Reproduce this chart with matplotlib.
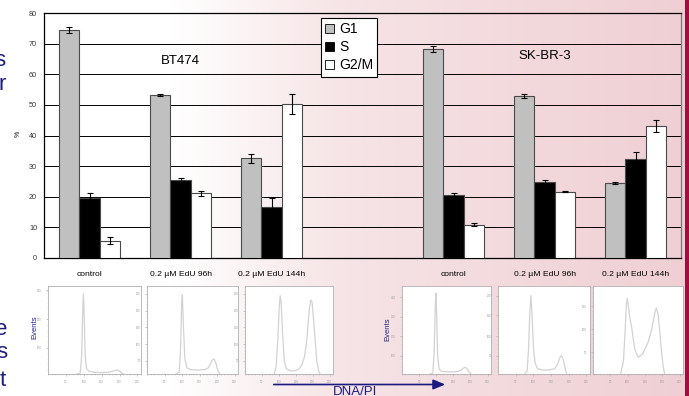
import numpy as np
import matplotlib
matplotlib.use("Agg")
import matplotlib.pyplot as plt
from matplotlib.patches import Patch, Rectangle, FancyArrowPatch
from matplotlib.colors import LinearSegmentedColormap
from matplotlib.ticker import AutoMinorLocator

plt.rcParams['font.family'] = ['Liberation Sans', 'DejaVu Sans']

# ---------------- data ----------------
cell_lines = ["BT474", "SK-BR-3"]
conditions = ["control", "0.2 µM EdU 96h", "0.2 µM EdU 144h"]
phases = ["G1", "S", "G2/M"]

g1 = [74.5, 53.3, 32.5, 68.3, 52.9, 24.4]
s_phase = [19.5, 25.4, 16.8, 20.6, 24.9, 32.4]
g2m = [5.7, 21.1, 50.2, 10.9, 21.7, 43.0]
g1_err = [1.0, 0.3, 1.4, 1.0, 0.6, 0.3]
s_err = [1.6, 0.6, 2.7, 0.6, 0.5, 2.1]
g2m_err = [1.0, 0.8, 3.3, 0.4, 0.3, 1.9]

y_ticks = [0, 10, 20, 30, 40, 50, 60, 70, 80]

# flow cytometry histograms (DNA/PI channel, events as % of panel height)
hist_x = [
    [80, 90, 94, 97, 99, 101, 104, 108, 115, 130, 150, 170, 180, 187, 193, 200, 206, 212],
    [82, 92, 96, 99, 101, 104, 108, 114, 125, 145, 165, 175, 182, 187, 192, 197, 203, 208],
    [86, 92, 97, 101, 104, 107, 111, 116, 122, 135, 150, 160, 168, 176, 183, 189, 194, 198, 202, 207, 212, 218, 222],
    [82, 90, 94, 97, 99, 101, 104, 108, 115, 130, 150, 165, 174, 180, 185, 190, 196, 202],
    [76, 82, 86, 90, 93, 96, 100, 105, 112, 125, 145, 160, 168, 174, 179, 184, 189, 194],
    [80, 88, 93, 96, 99, 103, 107, 111, 116, 121, 130, 144, 159, 168, 175, 180, 183, 188, 193, 198, 203, 207],
]
hist_y = [
    [0, 1, 20, 70, 91, 70, 20, 6, 3, 2, 1.5, 2, 3, 4, 4.5, 3.5, 1, 0],
    [0, 2, 30, 80, 90, 55, 18, 7, 5, 4.5, 5, 7, 12, 16, 17, 12, 3, 0],
    [0, 8, 40, 75, 89, 80, 45, 15, 6, 3.5, 4, 6, 10, 20, 40, 70, 84, 82, 65, 40, 15, 3, 0],
    [0, 1, 25, 75, 92, 70, 22, 6, 3, 2.5, 2.5, 3, 5, 7, 7.5, 6, 2, 0],
    [0, 3, 25, 70, 89, 70, 30, 12, 6, 4.5, 4.5, 6, 11, 18, 21, 17, 8, 0],
    [0, 15, 50, 78, 86, 75, 62, 55, 40, 28, 19, 23, 36, 48, 62, 72, 75, 68, 48, 25, 8, 0],
]
hist_yticks = [
    [30, 62, 95],
    [15, 34, 53, 72, 91],
    [15, 34, 53, 72, 91],
    [21, 43, 65, 87],
    [21, 43, 67, 89],
    [25, 51, 77],
]
hist_ytick_labels = [
    ["100", "200", "300"],
    ["50", "100", "150", "200", "250"],
    ["50", "100", "150", "200", "250"],
    ["100", "200", "300", "400"],
    ["50", "100", "150", "200"],
    ["50", "100", "150"],
]
hist_xticks = [50, 100, 150, 200, 250]

# ---------------- figure ----------------
W, H = 689, 396
fig = plt.figure(figsize=(W / 100, H / 100), dpi=100)

def fx(px):
    return px / W

def fy(py):
    return 1 - py / H

# background gradient
bg = fig.add_axes([0, 0, 1, 1], zorder=-10)
cmap = LinearSegmentedColormap.from_list(
    "bg", [(0.0, "#ffffff"), (0.25, "#ffffff"), (0.5, "#f6e4e6"), (1.0, "#efcfd4")])
grad = np.linspace(0, 1, 256).reshape(1, -1)
bg.imshow(grad, cmap=cmap, aspect="auto", extent=[0, 1, 0, 1])
bg.set_xlim(0, 1)
bg.set_ylim(0, 1)
bg.axis("off")
# right crimson bar
fig.patches.append(Rectangle((fx(685), 0), 1 - fx(685), 1, transform=fig.transFigure,
                             facecolor="#a20c3e", edgecolor="none", zorder=5))

navy = "#1e1e7e"
# slide text fragments at the left edge
for txt, px_r, py_b in [("s", 5, 66), ("r", 6, 90), ("e", 7, 335), ("s", 7, 358), ("t", 6, 386)]:
    fig.text(fx(px_r), fy(py_b), txt, ha="right", va="baseline", fontsize=16, color=navy)

# ---------------- main bar chart ----------------
ax = fig.add_axes([fx(44), fy(258), fx(681) - fx(44), fy(13) - fy(258)])
ax.patch.set_alpha(0)
positions = [0, 1, 2, 4, 5, 6]
bw = 0.223
pos = np.array(positions, dtype=float)
ekw = dict(ecolor="black", elinewidth=0.8, capsize=2.2, capthick=0.8)
ax.bar(pos - bw, g1, bw, yerr=g1_err, color="#c0c0c0", edgecolor="#4a4a4a", linewidth=0.8,
       error_kw=ekw, zorder=3)
ax.bar(pos, s_phase, bw, yerr=s_err, color="black", edgecolor="#4a4a4a", linewidth=0.8,
       error_kw=ekw, zorder=3)
ax.bar(pos + bw, g2m, bw, yerr=g2m_err, color="white", edgecolor="#4a4a4a", linewidth=0.8,
       error_kw=ekw, zorder=3)

ax.set_xlim(-0.5, 6.5)
ax.set_ylim(0, 80)
ax.set_yticks(y_ticks)
ax.set_yticklabels([str(v) for v in y_ticks])
ax.tick_params(axis="y", length=0, pad=5, labelsize=5.2, labelcolor="#333333")
ax.set_xticks(positions)
ax.set_xticklabels(conditions + conditions)
ax.tick_params(axis="x", length=0, pad=9, labelsize=6.1)
ax.yaxis.grid(True, color="black", linewidth=0.7)
ax.set_axisbelow(True)
for side in ["left", "bottom", "top"]:
    ax.spines[side].set_color("black")
    ax.spines[side].set_linewidth(0.9)
ax.spines["right"].set_color("#777777")
ax.spines["right"].set_linewidth(0.9)

ax.text(1, 64.2, cell_lines[0], ha="center", va="center", fontsize=9.5)
ax.text(5, 65.8, cell_lines[1], ha="center", va="center", fontsize=9.5)
fig.text(fx(18), fy(134), "%", rotation=90, ha="center", va="center", fontsize=5)

handles = [Patch(facecolor=c, edgecolor="black", linewidth=0.6) for c in ["#c0c0c0", "black", "white"]]
leg = fig.legend(handles, phases, loc="upper left", bbox_to_anchor=(fx(321), fy(18)),
                 bbox_transform=fig.transFigure, fontsize=10, frameon=True, fancybox=False,
                 edgecolor="black", framealpha=1, borderpad=0.3, borderaxespad=0,
                 handlelength=0.65, handleheight=0.65, handletextpad=0.35, labelspacing=0.3)
leg.get_frame().set_linewidth(0.8)

# ---------------- histogram panels ----------------
panel_x = [(48, 141), (147, 238), (245, 333), (402, 491), (498, 590), (593, 683)]
ptop, pbot = 286, 374
for i, (x0, x1) in enumerate(panel_x):
    hax = fig.add_axes([fx(x0), fy(pbot), fx(x1) - fx(x0), fy(ptop) - fy(pbot)])
    hax.set_facecolor("white")
    hax.plot(hist_x[i], hist_y[i], color="#d2d2d2", linewidth=0.9)
    hax.set_xlim(0, 260)
    hax.set_ylim(0, 100)
    hax.set_xticks(hist_xticks)
    hax.set_xticklabels([str(v) for v in hist_xticks])
    hax.set_yticks(hist_yticks[i])
    hax.set_yticklabels(hist_ytick_labels[i])
    hax.xaxis.set_minor_locator(AutoMinorLocator(5))
    hax.yaxis.set_minor_locator(AutoMinorLocator(5))
    hax.tick_params(which="major", length=1.5, width=0.5, color="#aaaaaa",
                    labelsize=2, labelcolor="#999999", pad=3)
    hax.tick_params(which="minor", length=0.8, width=0.4, color="#bbbbbb")
    for sp in hax.spines.values():
        sp.set_color("#b0b0b0")
        sp.set_linewidth(0.6)

fig.text(fx(34.5), fy(327), "Events", rotation=90, ha="center", va="center",
         fontsize=5.5, color=navy)
fig.text(fx(388), fy(329), "Events", rotation=90, ha="center", va="center",
         fontsize=5.5, color=navy)

# DNA/PI arrow
arr = FancyArrowPatch((fx(271), fy(384.5)), (fx(448), fy(384.5)), transform=fig.transFigure,
                      arrowstyle="-|>,head_length=2.4,head_width=1.0", color="#1a1a80",
                      linewidth=1.2, mutation_scale=3)
fig.patches.append(arr)
fig.text(fx(333), fy(386), "DNA/PI", ha="left", va="top", fontsize=9.5, color=navy)

fig.savefig("out.png", dpi=100)
